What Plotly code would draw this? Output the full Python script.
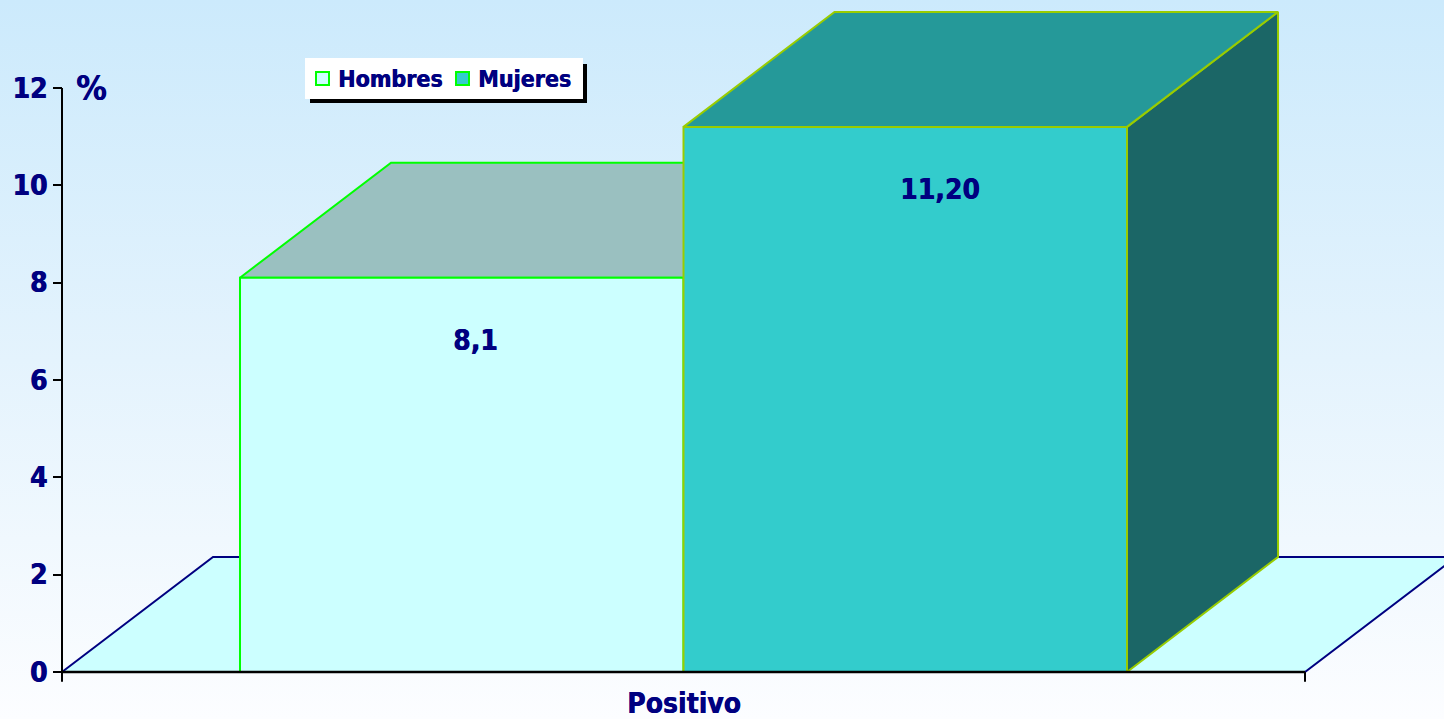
import plotly.graph_objects as go

# ---- data ----
categories = ["Positivo"]
series = ["Hombres", "Mujeres"]
values = [8.1, 11.2]
value_labels = ["8,1", "11,20"]
y_ticks = [0, 2, 4, 6, 8, 10, 12]
axis_unit = "%"

# ---- geometry (figure in pixels, 3D projection in data units) ----
W, H = 1444, 719
PX_X = 1243.0          # pixels per x unit (category band = 0..1)
PX_Y = 48.67           # pixels per y unit
X_RANGE = [-62 / PX_X, (W - 62) / PX_X]
Y_RANGE = [-(H - 672) / PX_Y, 672 / PX_Y]
GAP = 0.1432
BAR_W = 0.3568
DEPTH_X = 0.1215
DEPTH_Y = 2.363

FRONT = ["#CCFFFF", "#33CCCC"]
TOP = ["#9AC0C0", "#259999"]
SIDE = ["#8CB3B3", "#1B6666"]
EDGE = ["#00FF00", "#99CC00"]
LEGEND_EDGE = "#00FF00"
NAVY = "#000080"
FONT = "DejaVu Sans Condensed, DejaVu Sans"
HEAVY = "0.6px 0 0 #000080"   # thickens the bold strokes slightly


def tfont(size):
    return dict(family=FONT, size=size, color=NAVY, weight="bold", shadow=HEAVY)


fig = go.Figure()

# background gradient over the whole canvas
fig.add_trace(go.Scatter(
    x=[X_RANGE[0], X_RANGE[1], X_RANGE[1], X_RANGE[0]],
    y=[Y_RANGE[0], Y_RANGE[0], Y_RANGE[1], Y_RANGE[1]],
    fill="toself", mode="lines", line=dict(width=0),
    fillgradient=dict(type="vertical",
                      colorscale=[[0, "#FCFDFF"], [0.5, "#E4F3FD"], [1, "#CCEAFC"]]),
    hoverinfo="skip", showlegend=False,
))


def poly(xs, ys, fill, line, width=2):
    fig.add_trace(go.Scatter(
        x=xs + [xs[0]], y=ys + [ys[0]], fill="toself", fillcolor=fill,
        mode="lines", line=dict(color=line, width=width),
        hoverinfo="skip", showlegend=False,
    ))


# floor
poly([0, 1, 1 + DEPTH_X, DEPTH_X], [0, 0, DEPTH_Y, DEPTH_Y], "#CCFFFF", NAVY, 2)

# bars, back to front in painter's order
for i, v in enumerate(values):
    x0 = GAP + i * BAR_W
    x1 = x0 + BAR_W
    poly([x1, x1 + DEPTH_X, x1 + DEPTH_X, x1],
         [0, DEPTH_Y, v + DEPTH_Y, v], SIDE[i], EDGE[i])
    poly([x0, x1, x1 + DEPTH_X, x0 + DEPTH_X],
         [v, v, v + DEPTH_Y, v + DEPTH_Y], TOP[i], EDGE[i])
    poly([x0, x1, x1, x0], [0, 0, v, v], FRONT[i], EDGE[i])

# value labels
label_shift = [14, 35]
for i, v in enumerate(values):
    cx = GAP + i * BAR_W + BAR_W / 2
    fig.add_annotation(x=cx, y=v - 1.28, text=value_labels[i], showarrow=False,
                       xshift=label_shift[i], font=tfont(28))

# category label
fig.add_annotation(x=0.5, y=Y_RANGE[0], yanchor="bottom", text=categories[0],
                   showarrow=False, borderpad=0, yshift=-2, font=tfont(28))

# unit label
fig.add_annotation(x=0.0235, y=12, text=axis_unit, showarrow=False, font=tfont(34))

# axis lines and end ticks
shapes = [
    dict(type="line", x0=0, x1=0, y0=-0.2, y1=12, line=dict(color="black", width=2)),
    dict(type="line", x0=0, x1=1, y0=0, y1=0, line=dict(color="black", width=2.5)),
    dict(type="line", x0=1, x1=1, y0=0, y1=-0.2, line=dict(color="black", width=2)),
]


def px(x):
    return x / W


def py(y):
    return 1 - y / H


# legend box with drop shadow
shapes += [
    dict(type="rect", xref="paper", yref="paper", x0=px(310), x1=px(587), y0=py(103), y1=py(64),
         fillcolor="black", line=dict(width=0)),
    dict(type="rect", xref="paper", yref="paper", x0=px(305), x1=px(583), y0=py(99), y1=py(58),
         fillcolor="white", line=dict(width=0)),
]
legend_x = [316, 456]
text_x = [336, 476]
for i, name in enumerate(series):
    shapes.append(dict(type="rect", xref="paper", yref="paper",
                       x0=px(legend_x[i]), x1=px(legend_x[i] + 13), y0=py(85), y1=py(72),
                       fillcolor=FRONT[i], line=dict(color=LEGEND_EDGE, width=2)))
    fig.add_annotation(xref="paper", yref="paper", x=px(text_x[i]), y=py(79),
                       xanchor="left", yanchor="middle", text=name, showarrow=False,
                       font=tfont(23))

fig.update_layout(
    width=W, height=H,
    margin=dict(l=0, r=0, t=0, b=0),
    paper_bgcolor="white", plot_bgcolor="rgba(0,0,0,0)",
    shapes=shapes,
    showlegend=False,
    xaxis=dict(range=X_RANGE, visible=False, fixedrange=True),
    yaxis=dict(range=Y_RANGE, anchor="free", position=62 / W,
               tickvals=y_ticks, ticks="outside", ticklen=9, tickwidth=2,
               tickcolor="black", showline=False, showgrid=False, zeroline=False,
               tickfont=tfont(28), fixedrange=True),
)

fig.write_html("out.html")
